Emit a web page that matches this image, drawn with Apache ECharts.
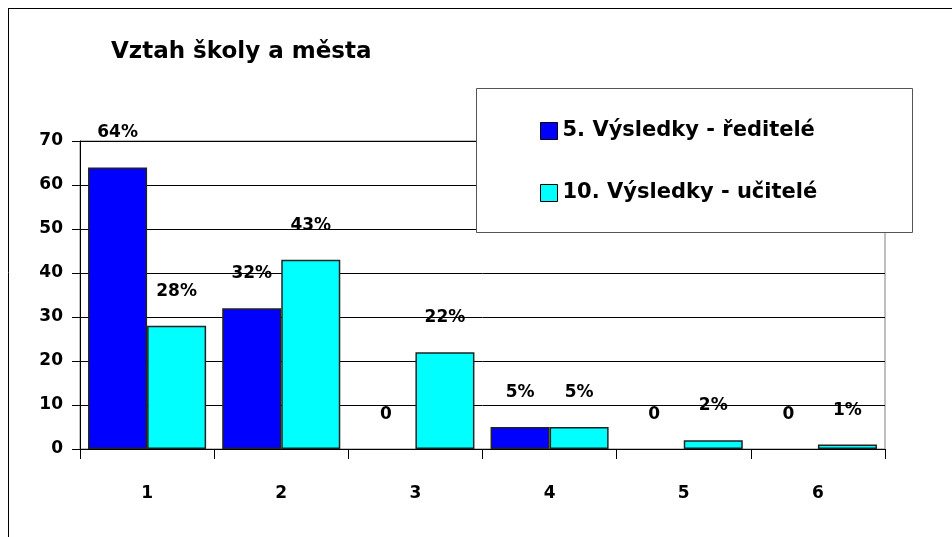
<!DOCTYPE html>
<html>
<head>
<meta charset="utf-8">
<script src="https://cdn.jsdelivr.net/npm/echarts@6/dist/echarts.min.js"></script>
<style>html,body{margin:0;padding:0;background:#fff}#c{width:952px;height:537px}</style>
</head>
<body>
<div id="c"></div>
<script>
const categories = ['1', '2', '3', '4', '5', '6'];
const reditele = [64, 32, 0, 5, 0, 0];
const ucitele = [28, 43, 22, 5, 2, 1];
const seriesNames = ['5. Výsledky - ředitelé', '10. Výsledky - učitelé'];
const titleText = 'Vztah školy a města';

const FONT = 'DejaVu Sans';
const chart = echarts.init(document.getElementById('c'), null, {renderer: 'canvas'});
const lbl = {
  show: true, position: 'top', distance: 26,
  fontFamily: FONT, fontWeight: 'bold', fontSize: 17, color: '#000',
  formatter: p => p.value === 0 ? '0' : p.value + '%'
};
const toItems = arr => arr.map(v => v === 0 ? {value: 0, itemStyle: {borderWidth: 0}} : v);
chart.setOption({
  animation: false,
  title: {
    text: titleText, left: 106, top: 36,
    textStyle: {fontFamily: FONT, fontWeight: 'bold', fontSize: 23, color: '#000'}
  },
  graphic: [
    {type: 'line', shape: {x1: 8, y1: 8.5, x2: 952, y2: 8.5}, style: {stroke: '#000', lineWidth: 1}, z: 1},
    {type: 'line', shape: {x1: 8.5, y1: 8, x2: 8.5, y2: 537}, style: {stroke: '#000', lineWidth: 1}, z: 1},
    {type: 'rect', shape: {x: 476.5, y: 88.5, width: 436, height: 144}, style: {fill: '#fff', stroke: '#555', lineWidth: 1}, z: 50}
  ],
  legend: {
    orient: 'vertical', left: 476, top: 88, z: 60,
    padding: [31, 10, 29, 64],
    itemGap: 38, itemWidth: 17, itemHeight: 17, icon: 'rect',
    itemStyle: {borderColor: '#000', borderWidth: 1},
    textStyle: {fontFamily: FONT, fontWeight: 'bold', fontSize: 21, color: '#000', lineHeight: 24},
    data: seriesNames
  },
  grid: {left: 80, right: 67, top: 141, bottom: 88, show: true, borderColor: '#808080', borderWidth: 1},
  xAxis: {
    type: 'category', data: categories,
    axisLine: {lineStyle: {color: '#000', width: 1}},
    axisTick: {show: true, length: 10, lineStyle: {color: '#000'}},
    axisLabel: {fontFamily: FONT, fontWeight: 'bold', fontSize: 17, color: '#000', margin: 36}
  },
  yAxis: {
    type: 'value', min: 0, max: 70, interval: 10,
    axisLine: {show: true, lineStyle: {color: '#000', width: 1}},
    axisTick: {show: true, length: 8, lineStyle: {color: '#000'}},
    splitLine: {lineStyle: {color: '#000', width: 1}},
    axisLabel: {fontFamily: FONT, fontWeight: 'bold', fontSize: 17, color: '#000', margin: 17}
  },
  series: [
    {name: seriesNames[0], type: 'bar', data: toItems(reditele), barGap: '0%', barCategoryGap: '12%',
     itemStyle: {color: '#0000FF', borderColor: '#222', borderWidth: 1.5}, label: lbl},
    {name: seriesNames[1], type: 'bar', data: toItems(ucitele), barGap: '0%', barCategoryGap: '12%',
     itemStyle: {color: '#00FFFF', borderColor: '#222', borderWidth: 1.5}, label: lbl}
  ]
});
</script>
</body>
</html>
